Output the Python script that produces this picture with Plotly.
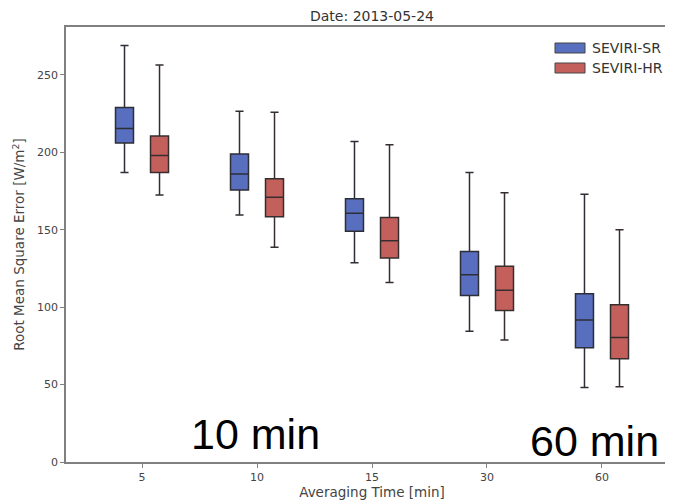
import plotly.graph_objects as go

categories = ["5", "10", "15", "30", "60"]
series_names = ["SEVIRI-SR", "SEVIRI-HR"]

sr_low = [187, 159.6, 128.7, 84.4, 48.2]
sr_q1 = [206, 175.7, 149, 107.5, 73.8]
sr_med = [215.5, 186, 160.7, 121, 91.7]
sr_q3 = [229, 199, 170, 136, 108.7]
sr_high = [269, 226.5, 207, 187, 173]

hr_low = [172.5, 138.7, 116, 78.8, 48.6]
hr_q1 = [187, 158.5, 131.8, 97.8, 66.7]
hr_med = [198, 171, 143, 111, 80.5]
hr_q3 = [210.6, 183, 158, 126.4, 101.6]
hr_high = [256.5, 226, 205, 174, 150]

colors = ["#586ebe", "#c4605c"]

# page body has an 8px margin; the figure geometry below compensates for it
W, H = 673, 503
ML, MR, MT, MB = 58, 3, 19, 49
PW = W - ML - MR
PH = H - MT - MB


def px_x(x):
    return (x - ML) / PW


def px_y(y):
    return (H - MB - y) / PH


fig = go.Figure()
fig.add_trace(go.Box(
    name=series_names[0], x=categories, q1=sr_q1, median=sr_med, q3=sr_q3,
    lowerfence=sr_low, upperfence=sr_high,
    fillcolor=colors[0], line=dict(color="#2e2e36", width=1.5),
    whiskerwidth=0.45, boxpoints=False, showlegend=False,
))
fig.add_trace(go.Box(
    name=series_names[1], x=categories, q1=hr_q1, median=hr_med, q3=hr_q3,
    lowerfence=hr_low, upperfence=hr_high,
    fillcolor=colors[1], line=dict(color="#362e2e", width=1.5),
    whiskerwidth=0.45, boxpoints=False, showlegend=False,
))

tickfont = dict(family="DejaVu Sans", size=11, color="#444")

shapes = []
annotations = []
for i, (nm, col) in enumerate(zip(series_names, colors)):
    y0 = 35 + i * 20
    shapes.append(dict(type="rect", xref="paper", yref="paper",
                       x0=px_x(547), x1=px_x(577), y0=px_y(y0), y1=px_y(y0 + 10),
                       fillcolor=col, line=dict(color="#444", width=1)))
    annotations.append(dict(text=nm, xref="paper", yref="paper", x=px_x(582), y=px_y(y0 + 5),
                            xanchor="left", yanchor="middle", showarrow=False,
                            font=dict(family="DejaVu Sans", size=14, color="#333")))

annotations += [
    dict(text="10 min", xref="paper", yref="paper", x=px_x(247), y=px_y(426),
         xanchor="center", yanchor="middle", showarrow=False,
         font=dict(family="Liberation Sans", size=43, color="black")),
    dict(text="60 min", xref="paper", yref="paper", x=px_x(586), y=px_y(433),
         xanchor="center", yanchor="middle", showarrow=False,
         font=dict(family="Liberation Sans", size=43, color="black")),
]

fig.update_layout(
    width=W, height=H,
    margin=dict(l=ML, r=MR, t=MT, b=MB),
    paper_bgcolor="white", plot_bgcolor="white",
    boxmode="group", boxgap=0.391, boxgroupgap=0.486,
    font=dict(family="DejaVu Sans", color="#444"),
    title=dict(text="Date: 2013-05-24", x=364 / W, xanchor="center", y=1 - 8 / H, yanchor="middle",
               font=dict(family="DejaVu Sans", size=14, color="#333")),
    showlegend=False,
    shapes=shapes,
    annotations=annotations,
    xaxis=dict(type="category", range=[-0.661, 4.661], showline=True, linecolor="#808080", linewidth=1.5,
               mirror=True, ticks="outside", ticklen=4, tickcolor="#808080", tickfont=tickfont,
               showgrid=False, zeroline=False,
               title=dict(text="Averaging Time [min]", standoff=5,
                          font=dict(family="DejaVu Sans", size=13.5, color="#444"))),
    yaxis=dict(range=[0, 281], tickvals=[0, 50, 100, 150, 200, 250], showline=True, linecolor="#808080",
               linewidth=1.5, ticks="outside", ticklen=4, tickcolor="#808080", tickfont=tickfont,
               showgrid=False, zeroline=False,
               title=dict(text="Root Mean Square Error [W/m<sup>2</sup>]", standoff=9,
                          font=dict(family="DejaVu Sans", size=13.5, color="#444"))),
)

fig.write_html("out.html")
